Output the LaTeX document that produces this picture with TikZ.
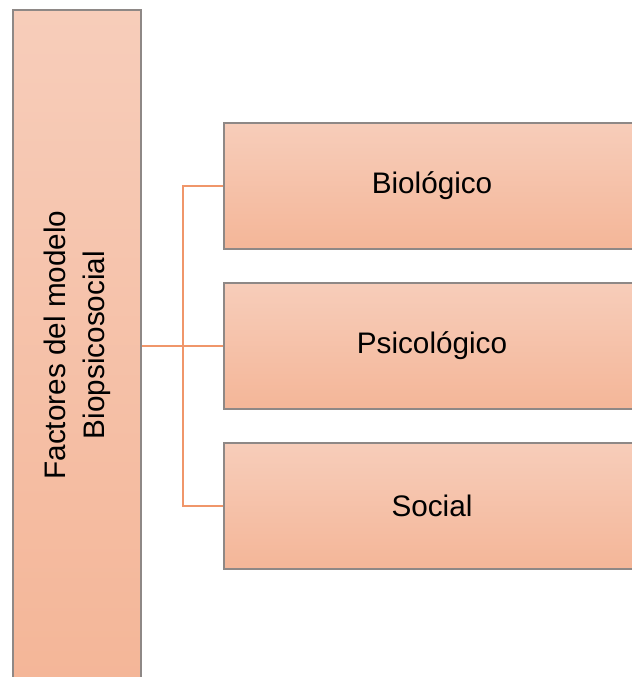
\documentclass[tikz,border=0pt]{standalone}
\usepackage{fontspec}
\setmainfont{Liberation Sans}
\usepackage{graphicx}
\definecolor{boxtop}{HTML}{F7CDBA}
\definecolor{boxbottom}{HTML}{F4B698}
\definecolor{boxline}{HTML}{8E8886}
\definecolor{linkline}{HTML}{F0966A}
\tikzset{
	factorbox/.style={draw=boxline, line width=1pt, top color=boxtop, bottom color=boxbottom, font=\fontsize{16.9}{22.5}\selectfont, inner sep=0pt},
	link/.style={draw=linkline, line width=1.3pt}
}
\begin{document}
\begin{tikzpicture}[x=0.02cm, y=-0.02cm]
		\useasboundingbox (0, 0) rectangle (632, 677);
		
		\node[factorbox, minimum width=2.56cm, minimum height=13.4cm] (modelo) at (77, 345) {\rotatebox{90}{\begin{tabular}{c}Factores del modelo\\Biopsicosocial\end{tabular}}};
		
		\node[factorbox, minimum width=8.32cm, minimum height=2.52cm] (bio) at (432, 186) {Biológico};
		\node[factorbox, minimum width=8.32cm, minimum height=2.52cm] (psico) at (432, 346) {Psicológico};
		\node[factorbox, minimum width=8.32cm, minimum height=2.52cm] (social) at (432, 506) {Social};
		
		\coordinate (hub) at (183, 346);
		\path[link] (modelo.east |- psico.west) -- (psico.west);
		\path[link] (bio.west) -| (hub) |- (social.west);
	\end{tikzpicture}
\end{document}
